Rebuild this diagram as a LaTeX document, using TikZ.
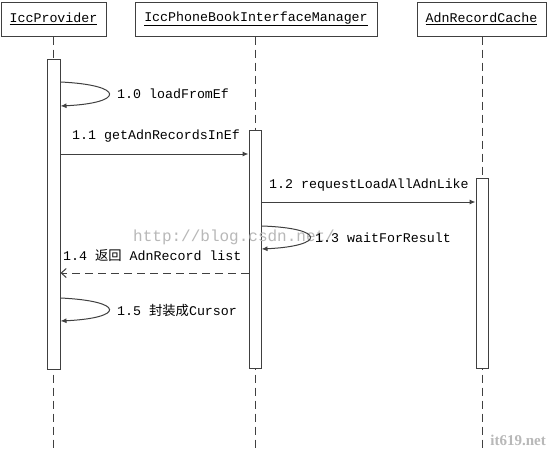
\documentclass[tikz,border=0pt]{standalone}
\usepackage{fontspec}
\setmainfont{Liberation Mono}
\newfontfamily\cjk{Noto Sans CJK SC}
\newfontfamily\wmfont{Liberation Serif}
\usetikzlibrary{arrows.meta}
\definecolor{ln}{HTML}{404040}
\begin{document}
\begin{tikzpicture}[x=1pt,y=-1pt,
  every node/.style={font=\fontsize{13.3}{14}\selectfont, inner sep=0pt},
  headbox/.style={draw=ln, line width=1pt, fill=white, minimum height=34pt},
  bar/.style={draw=ln, line width=1pt, fill=white, minimum width=12pt, anchor=north},
  life/.style={draw=ln, line width=1pt, dash pattern=on 8pt off 5pt},
  msg/.style={draw=ln, line width=1pt, -{Latex[length=6pt,width=5pt]}},
  ret/.style={draw=ln, line width=1pt, dash pattern=on 8pt off 5pt, -{Straight Barb[length=5pt,width=9pt]}},
  lbl/.style={anchor=west, text=black},
  wm/.style={text=black!28}]
\useasboundingbox (0,0) rectangle (548,450);
\fill[white] (0,0) rectangle (548,450);
% heads
\node[headbox, minimum width=105pt] (p) at (53.5,19) {\underline{IccProvider}};
\node[headbox, minimum width=242pt] (m) at (256,19) {\underline{IccPhoneBookInterfaceManager}};
\node[headbox, minimum width=129pt] (c) at (481.5,19) {\underline{AdnRecordCache}};
% lifelines
\coordinate (pe) at (53.5,450);
\coordinate (me) at (255,450);
\coordinate (ce) at (482,450);
\draw[life] (p.south) -- (pe);
\draw[life] (m.south -| me) -- (me);
\draw[life] (c.south -| ce) -- (ce);
% bars
\node[bar, minimum width=13pt, minimum height=310pt] (bp) at (53.5,59) {};
\node[bar, minimum height=238pt] (bm) at (255,130) {};
\node[bar, minimum height=190pt] (bc) at (482,178) {};
% watermark
\node[wm, anchor=west, font=\fontsize{16}{16}\selectfont] (w1) at (133,237) {http://blog.csdn.net/};
\node[wm, anchor=east, font=\wmfont\bfseries\fontsize{15}{15}\selectfont] (w2) at (546,440) {it619.net};
% 1.0 self loop
\draw[msg] (bp.east |- 0,82) .. controls (125,85) and (125,103) .. (bp.east |- 0,106);
\node[lbl] (l10) at (117,94) {1.0 loadFromEf};
% 1.1
\draw[msg] (bp.east |- 0,154) -- (bm.west |- 0,154);
\node[lbl] (l11) at (72,136) {1.1 getAdnRecordsInEf};
% 1.2
\draw[msg] (bm.east |- 0,202) -- (bc.west |- 0,202);
\node[lbl] (l12) at (269,185) {1.2 requestLoadAllAdnLike};
% 1.3
\draw[msg] (bm.east |- 0,226) .. controls (326,228) and (326,246) .. (bm.east |- 0,249);
\node[lbl] (l13) at (315,238) {1.3 waitForResult};
% 1.4
\draw[ret] (bm.west |- 0,273) -- (bp.east |- 0,273);
\node[lbl] (l14) at (63,256) {1.4 {\cjk 返回} AdnRecord list};
% 1.5
\draw[msg] (bp.east |- 0,298) .. controls (125,301) and (125,318) .. (bp.east |- 0,321);
\node[lbl] (l15) at (117,310) {1.5 {\cjk 封装成}Cursor};
\end{tikzpicture}
\end{document}
